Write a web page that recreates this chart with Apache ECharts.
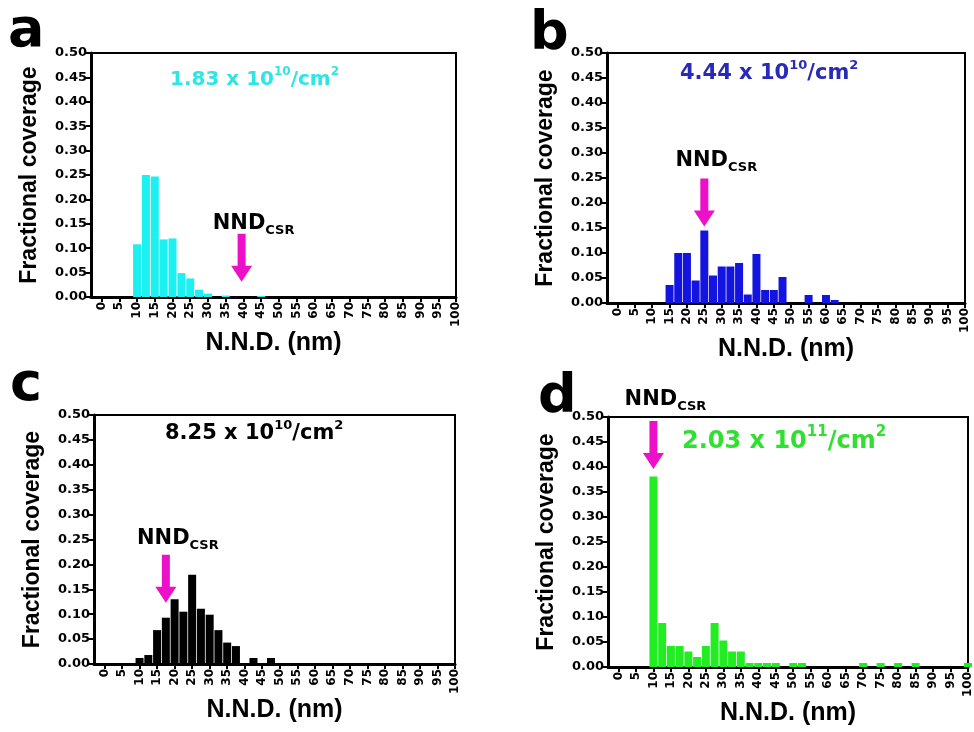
<!DOCTYPE html>
<html>
<head>
<meta charset="utf-8">
<script src="https://cdn.jsdelivr.net/npm/echarts@6/dist/echarts.min.js"></script>
<style>
  html, body { margin: 0; padding: 0; background: #fff; }
  #chart { width: 974px; height: 732px; }
</style>
</head>
<body>
<div id="chart"></div>
<script>
// bin centres (nm) and the labelled ticks
const bins = [0, 2.5, 5, 7.5, 10, 12.5, 15, 17.5, 20, 22.5, 25, 27.5, 30, 32.5, 35, 37.5, 40, 42.5, 45, 47.5,
  50, 52.5, 55, 57.5, 60, 62.5, 65, 67.5, 70, 72.5, 75, 77.5, 80, 82.5, 85, 87.5, 90, 92.5, 95, 97.5, 100];
const xTicks = [0, 5, 10, 15, 20, 25, 30, 35, 40, 45, 50, 55, 60, 65, 70, 75, 80, 85, 90, 95, 100];

// fractional coverage per bin, one array per panel
const coverageA = [0, 0, 0, 0, 0.108, 0.25, 0.247, 0.118, 0.12, 0.049, 0.038, 0.015, 0.007, 0, 0.003, 0, 0, 0, 0.002, 0,
  0, 0, 0, 0, 0, 0, 0, 0, 0, 0, 0, 0, 0, 0, 0, 0, 0, 0, 0, 0, 0];
const coverageB = [0, 0, 0, 0, 0, 0, 0.036, 0.1, 0.1, 0.045, 0.145, 0.055, 0.073, 0.073, 0.08, 0.017, 0.098, 0.026, 0.026, 0.052,
  0, 0, 0.016, 0, 0.016, 0.006, 0, 0, 0, 0, 0, 0, 0, 0, 0, 0, 0, 0, 0, 0, 0];
const coverageC = [0, 0, 0, 0, 0.012, 0.018, 0.068, 0.093, 0.13, 0.105, 0.179, 0.111, 0.099, 0.068, 0.043, 0.036, 0, 0.012, 0, 0.012,
  0, 0, 0, 0, 0, 0, 0, 0, 0, 0, 0, 0, 0, 0, 0, 0, 0, 0, 0, 0, 0];
const coverageD = [0, 0, 0, 0, 0.381, 0.088, 0.042, 0.042, 0.031, 0.02, 0.042, 0.088, 0.053, 0.031, 0.031, 0.008, 0.008, 0.008, 0.008, 0,
  0.008, 0.008, 0, 0, 0, 0, 0, 0, 0.008, 0, 0.008, 0, 0.008, 0, 0.008, 0, 0, 0, 0, 0, 0.008];

// NND_CSR arrow position (nm) and where its tip sits on the y scale
const nndCsr = [39.5, 25, 17.5, 10];
const arrowTip = [0.031, 0.153, 0.123, 0.396];

const densities = ['1.83 x 10|10', '4.44 x 10|10', '8.25 x 10|10', '2.03 x 10|11'];
const panelLetters = ['a', 'b', 'c', 'd'];

const barColors = ['#1cf0f0', '#1414e0', '#000000', '#22ec22'];
const textColors = ['#2ee4e4', '#2a2ab8', '#000000', '#30e030'];
const magenta = '#ec10c8';

const grids = [
  { left: 91, top: 53, width: 365, height: 244 },
  { left: 607, top: 53, width: 358, height: 250 },
  { left: 94, top: 415, width: 361, height: 249 },
  { left: 608, top: 417, width: 360, height: 250 }
];
const labelLift = [-3, 4, 3, 8];
const densityPos = [[170, 78], [680, 72], [165, 432], [682, 439]];
const densitySize = [20, 21, 21, 24];
const letterPos = [[8, 32], [530, 35], [10, 386], [538, 398]];

const arrowPath = 'path://M6.5,0 L14.5,0 L14.5,32 L21,32 L10.5,48 L0,32 L6.5,32 Z';
const tickFont = { fontFamily: 'DejaVu Sans', fontWeight: 'bold', color: '#000' };
const yNameFont = { fontFamily: 'Arial', fontWeight: 'bold', fontSize: 23, color: '#000' };
const xNameFont = { fontFamily: 'Arial', fontWeight: 'bold', fontSize: 25, color: '#000' };

const xAxes = grids.map((g, i) => ({
  type: 'value', gridIndex: i, min: -3, max: 100,
  name: 'N.N.D. (nm)', nameLocation: 'middle', nameGap: 30, nameTextStyle: xNameFont,
  axisLine: { onZero: false, lineStyle: { color: '#000', width: 3 } },
  axisTick: { customValues: xTicks, length: 5, lineStyle: { color: '#000', width: 2 } },
  axisLabel: Object.assign({ customValues: xTicks, rotate: 90, fontSize: 12, margin: 5 }, tickFont),
  splitLine: { show: false }
}));

const yAxes = grids.map((g, i) => ({
  type: 'value', gridIndex: i, min: 0, max: 0.5, interval: 0.05,
  name: 'Fractional coverage', nameLocation: 'middle', nameGap: 50, nameTextStyle: yNameFont,
  axisLine: { show: true, onZero: false, lineStyle: { color: '#000', width: 3 } },
  axisTick: { show: true, length: 5, lineStyle: { color: '#000', width: 2 } },
  axisLabel: Object.assign({ fontSize: 13, margin: 4, formatter: v => v.toFixed(2) }, tickFont),
  splitLine: { show: false }
}));

const coverages = [coverageA, coverageB, coverageC, coverageD];

const series = coverages.map((vals, i) => ({
  type: 'bar', xAxisIndex: i, yAxisIndex: i, silent: true,
  data: bins.map((b, k) => [b, vals[k]]),
  barWidth: 8,
  itemStyle: { color: barColors[i] },
  markPoint: {
    symbol: arrowPath, symbolSize: [21, 48], symbolOffset: [0, '-50%'],
    itemStyle: { color: magenta },
    label: {
      show: true, position: 'top', distance: labelLift[i], offset: [12, 0],
      formatter: '{n|NND}{s|CSR}',
      rich: {
        n: { fontFamily: 'DejaVu Sans', fontWeight: 'bold', fontSize: 21, color: '#000', lineHeight: 24, verticalAlign: 'top' },
        s: { fontFamily: 'DejaVu Sans', fontWeight: 'bold', fontSize: 13, color: '#000', lineHeight: 13, padding: [16, 0, 0, 0], verticalAlign: 'bottom' }
      }
    },
    data: [{ coord: [nndCsr[i], arrowTip[i]] }]
  }
}));

const graphic = [];
densities.forEach((d, i) => {
  const [base, exp] = d.split('|');
  const f = densitySize[i];
  graphic.push({
    type: 'text', x: densityPos[i][0], y: densityPos[i][1], silent: true,
    style: {
      text: '{m|' + base + '}{p|' + exp + '}{m|/cm}{p|2}',
      verticalAlign: 'middle',
      rich: {
        m: { fontFamily: 'DejaVu Sans', fontWeight: 'bold', fontSize: f, fill: textColors[i], lineHeight: Math.round(f * 1.2), verticalAlign: 'bottom' },
        p: { fontFamily: 'DejaVu Sans', fontWeight: 'bold', fontSize: Math.round(f * 0.62), fill: textColors[i], lineHeight: Math.round(f * 0.5), verticalAlign: 'top' }
      }
    }
  });
});
panelLetters.forEach((l, i) => {
  graphic.push({
    type: 'text', x: letterPos[i][0], y: letterPos[i][1], silent: true,
    style: { text: l, font: 'bold 54px "DejaVu Sans"', fill: '#000', verticalAlign: 'middle' }
  });
});

const chart = echarts.init(document.getElementById('chart'), null, { renderer: 'canvas' });
chart.setOption({
  animation: false,
  backgroundColor: '#fff',
  grid: grids.map(g => Object.assign({ show: true, borderColor: '#000', borderWidth: 2, backgroundColor: 'transparent' }, g)),
  xAxis: xAxes,
  yAxis: yAxes,
  series: series,
  graphic: graphic
});
</script>
</body>
</html>
